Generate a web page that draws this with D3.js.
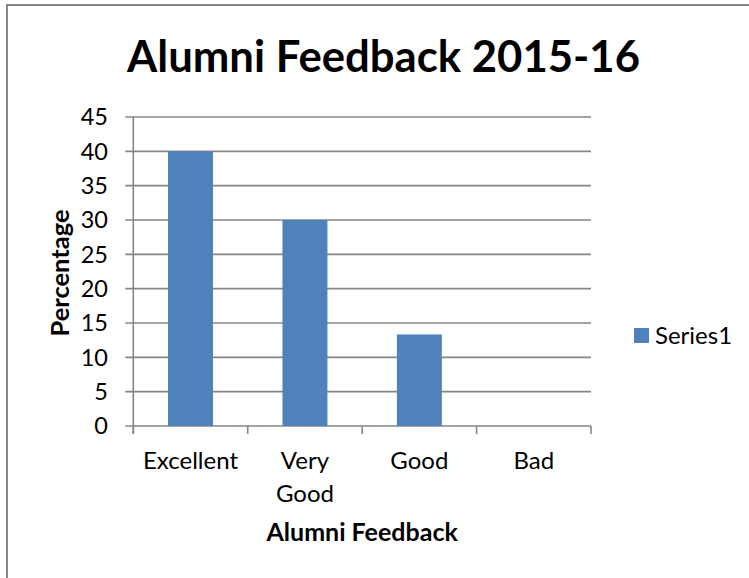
<!DOCTYPE html>
<html>
<head>
<meta charset="utf-8">
<script src="https://cdn.jsdelivr.net/npm/d3@7"></script>
<style>
  html, body { margin: 0; padding: 0; background: #fff; }
  svg { display: block; }
  text { font-family: Lato, "Open Sans", sans-serif; fill: #000; }
</style>
</head>
<body>
<svg id="chart" width="749" height="578"></svg>
<script>
// ---- data ----
const categories = ["Excellent", "Very Good", "Good", "Bad"];
const values = [40, 30, 13.33, 0];
const yTicks = [0, 5, 10, 15, 20, 25, 30, 35, 40, 45];
const seriesName = "Series1";
const chartTitle = "Alumni Feedback 2015-16";
const xTitle = "Alumni Feedback";
const yTitle = "Percentage";

// ---- layout ----
const W = 749, H = 578;
const plot = { left: 133.3, right: 591, top: 117, bottom: 426 };
const barColor = "#4F81BD";
const gridColor = "#868686";

const svg = d3.select("#chart");

// outer chart border (only top and left edges fall inside the picture)
svg.append("rect")
  .attr("x", 7).attr("y", 5)
  .attr("width", W + 20).attr("height", H + 20)
  .attr("fill", "#fff")
  .attr("stroke", gridColor).attr("stroke-width", 2);

const pad = 0.607;
const x = d3.scaleBand().domain(categories).range([plot.left, plot.right])
  .paddingInner(pad).paddingOuter(pad / 2);
const y = d3.scaleLinear().domain([0, 45]).range([plot.bottom, plot.top]);

// gridlines + y ticks
svg.append("g").selectAll("line").data(yTicks).join("line")
  .attr("x1", plot.left - 8).attr("x2", plot.right)
  .attr("y1", d => y(d)).attr("y2", d => y(d))
  .attr("stroke", gridColor).attr("stroke-width", 1.6);

// y axis line
svg.append("line")
  .attr("x1", plot.left).attr("x2", plot.left)
  .attr("y1", y(45)).attr("y2", y(0) + 8)
  .attr("stroke", gridColor).attr("stroke-width", 1.6);

// x category boundary ticks
const step = x.step();
const bounds = d3.range(categories.length + 1).map(i => plot.left + i * step);
svg.append("g").selectAll("line").data(bounds).join("line")
  .attr("x1", d => d).attr("x2", d => d)
  .attr("y1", y(0)).attr("y2", y(0) + 8)
  .attr("stroke", gridColor).attr("stroke-width", 1.6);

// y tick labels
svg.append("g").selectAll("text").data(yTicks).join("text")
  .attr("x", 108).attr("y", d => y(d))
  .attr("dy", "0.36em")
  .attr("text-anchor", "end")
  .attr("font-size", 23.5)
  .text(d => d);

// bars
svg.append("g").selectAll("rect").data(values).join("rect")
  .attr("x", (d, i) => x(categories[i]))
  .attr("y", d => y(d))
  .attr("width", x.bandwidth())
  .attr("height", d => y(0) - y(d))
  .attr("fill", barColor);

// category labels (wrapped on spaces)
const catG = svg.append("g");
categories.forEach(c => {
  const cx = x(c) + x.bandwidth() / 2;
  const t = catG.append("text")
    .attr("x", cx).attr("y", 469)
    .attr("text-anchor", "middle")
    .attr("font-size", 24);
  c.split(" ").forEach((w, i) => {
    t.append("tspan").attr("x", cx).attr("dy", i === 0 ? 0 : 32.5).text(w);
  });
});

// title
svg.append("text")
  .attr("x", 383.5).attr("y", 72)
  .attr("text-anchor", "middle")
  .attr("font-size", 44).attr("font-weight", "bold")
  .attr("textLength", 513).attr("lengthAdjust", "spacingAndGlyphs")
  .text(chartTitle);

// x axis title
svg.append("text")
  .attr("x", (plot.left + plot.right) / 2).attr("y", 541)
  .attr("text-anchor", "middle")
  .attr("font-size", 25).attr("font-weight", "bold")
  .text(xTitle);

// y axis title
svg.append("text")
  .attr("transform", "translate(69,273) rotate(-90)")
  .attr("text-anchor", "middle")
  .attr("font-size", 25.5).attr("font-weight", "bold")
  .text(yTitle);

// legend
svg.append("rect")
  .attr("x", 634).attr("y", 328)
  .attr("width", 15).attr("height", 15)
  .attr("fill", barColor);
svg.append("text")
  .attr("x", 655).attr("y", 344)
  .attr("font-size", 24)
  .text(seriesName);
</script>
</body>
</html>
